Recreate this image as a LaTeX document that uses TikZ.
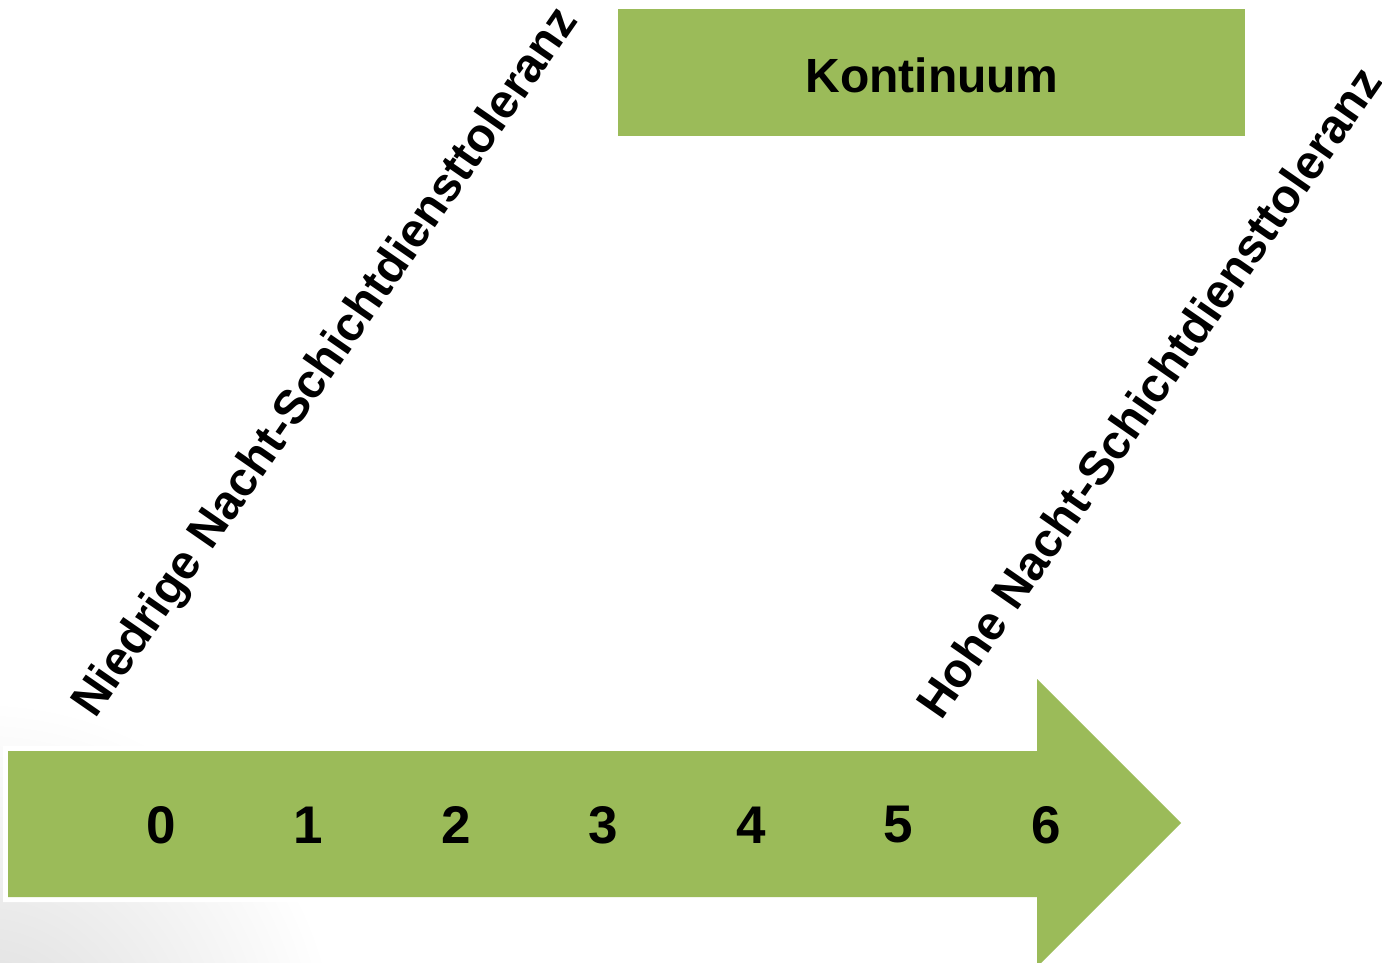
\documentclass[tikz,border=0pt]{standalone}
\usepackage{fontspec}
\setmainfont{Liberation Sans}
\definecolor{olivegreen}{HTML}{9BBB59}
\begin{document}
\begin{tikzpicture}[x=0.5pt,y=-0.5pt,
  digit/.style={inner sep=0pt, font=\fontsize{26.5}{30}\selectfont\bfseries},
  slanted/.style={inner sep=0pt, anchor=base west, rotate=55.3, font=\fontsize{23.9}{28}\selectfont\bfseries},
  titlebox/.style={fill=olivegreen, inner sep=0pt, minimum width=313.5pt, minimum height=63.5pt, font=\fontsize{24}{28}\selectfont\bfseries}]
\useasboundingbox (0,0) rectangle (1382,963);
% soft grey vignette bottom-left
\begin{scope}
\clip (0,0) rectangle (1382,963);
\shade[inner color=black!14, outer color=white] (-20,1060) circle[radius=360];
\end{scope}
% arrow with white halo
\draw[white, line width=5pt, line join=miter]
  (8,751) -- (1037,751) -- (1037,679) -- (1181,823) -- (1037,967) -- (1037,897) -- (8,897) -- cycle;
\fill[olivegreen]
  (8,751) -- (1037,751) -- (1037,679) -- (1181,823) -- (1037,967) -- (1037,897) -- (8,897) -- cycle;
% digits
\foreach \i in {0,...,6} {
  \node[digit] (d\i) at ({161+147.5*\i},825) {\i};
}
% title box
\node[titlebox] (kont) at (931.5,72.5) {};
\node[font=\fontsize{24}{28}\selectfont\bfseries, inner sep=0pt] (kontlabel) at (932,75) {Kontinuum};
% slanted labels
\node[slanted] (low) at (95,720) {Niedrige Nacht-Schichtdiensttoleranz};
\node[slanted] (high) at (941,722) {Hohe Nacht-Schichtdiensttoleranz};
\end{tikzpicture}
\end{document}
